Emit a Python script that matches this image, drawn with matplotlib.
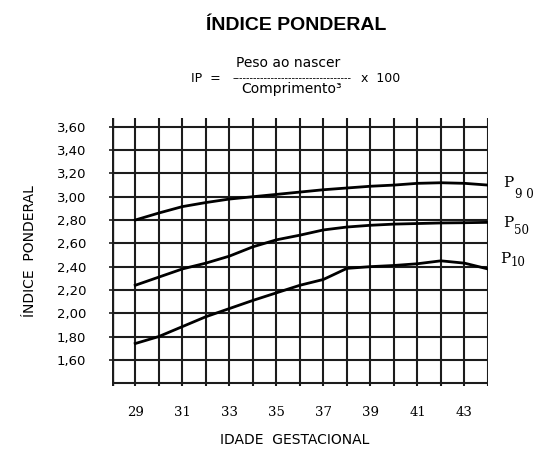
import matplotlib
matplotlib.use("Agg")
import matplotlib.pyplot as plt
import numpy as np

weeks = [29, 30, 31, 32, 33, 34, 35, 36, 37, 38, 39, 40, 41, 42, 43, 44]
p90 = [2.80, 2.86, 2.915, 2.95, 2.98, 3.00, 3.02, 3.04, 3.06, 3.075, 3.09, 3.10, 3.115, 3.12, 3.115, 3.10]
p50 = [2.24, 2.31, 2.38, 2.43, 2.49, 2.57, 2.63, 2.67, 2.715, 2.74, 2.755, 2.765, 2.77, 2.775, 2.777, 2.78]
p10 = [1.74, 1.80, 1.885, 1.97, 2.04, 2.11, 2.175, 2.24, 2.29, 2.385, 2.40, 2.41, 2.425, 2.45, 2.43, 2.38]

x_ticks = [29, 31, 33, 35, 37, 39, 41, 43]
y_ticks = [1.60, 1.80, 2.00, 2.20, 2.40, 2.60, 2.80, 3.00, 3.20, 3.40, 3.60]
y_labels = ["1,60", "1,80", "2,00", "2,20", "2,40", "2,60", "2,80", "3,00", "3,20", "3,40", "3,60"]
grid_x = list(range(28, 45))
grid_y = [1.40, 1.60, 1.80, 2.00, 2.20, 2.40, 2.60, 2.80, 3.00, 3.20, 3.40, 3.60]

W, H = 536, 459
fig = plt.figure(figsize=(W / 100, H / 100), dpi=100)
fig.patch.set_facecolor("white")
ax = fig.add_axes([111.7 / W, 1 - 385.5 / H, (488 - 111.7) / W, (385.5 - 117.5) / H])
ax.set_xlim(28, 44)
ax.set_ylim(1.38, 3.68)

gc = "#1c1c1c"
for gx in grid_x:
    ax.axvline(gx, color=gc, lw=1.5, zorder=1)
for gy in grid_y:
    ax.axhline(gy, color=gc, lw=1.5, zorder=1)
ax.axvline(28, color=gc, lw=2.4, zorder=2)

for s in ax.spines.values():
    s.set_visible(False)

ax.plot(weeks, p90, color="black", lw=2.0, zorder=3)
ax.plot(weeks, p50, color="black", lw=2.0, zorder=3)
ax.plot(weeks, p10, color="black", lw=2.0, zorder=3)

ax.set_xticks(x_ticks)
ax.set_xticklabels([str(v) for v in x_ticks], family="DejaVu Serif", fontsize=9.5)
ax.tick_params(axis="x", length=0, pad=15)
ax.set_yticks(y_ticks)
ax.set_yticklabels(y_labels, family="DejaVu Sans", fontsize=9.5)
ax.tick_params(axis="y", length=5, width=1.2, direction="inout", pad=16, color=gc)

# curve labels
ser = "DejaVu Serif"
fig.text(503 / W, 1 - 183 / H, "P", family=ser, fontsize=11, va="center", ha="left")
fig.text(515 / W, 1 - 195 / H, "9 0", family=ser, fontsize=8.5, va="center", ha="left")
fig.text(503 / W, 1 - 223 / H, "P", family=ser, fontsize=11, va="center", ha="left")
fig.text(514 / W, 1 - 231 / H, "50", family=ser, fontsize=8.5, va="center", ha="left")
fig.text(500 / W, 1 - 259 / H, "P", family=ser, fontsize=11, va="center", ha="left")
fig.text(511 / W, 1 - 262 / H, "10", family=ser, fontsize=8.5, va="center", ha="left")

# title and formula
fig.text(296 / W, 1 - 25 / H, "ÍNDICE PONDERAL", family="Liberation Sans", fontweight="bold",
         fontsize=14, ha="center", va="center")
sans = "DejaVu Sans"
fig.text(206 / W, 1 - 78 / H, "IP  =", family=sans, fontsize=9, ha="center", va="center")
fig.text(288 / W, 1 - 63 / H, "Peso ao nascer", family=sans, fontsize=10, ha="center", va="center")
fig.text(292 / W, 1 - 78 / H, "-" * 34, family=sans, fontsize=7, ha="center", va="center")
fig.text(292 / W, 1 - 89 / H, "Comprimento³", family=sans, fontsize=10, ha="center", va="center")
fig.text(381 / W, 1 - 78 / H, "x  100", family=sans, fontsize=9, ha="center", va="center")

fig.text(30 / W, 1 - 251 / H, "ÍNDICE  PONDERAL", family=sans, fontsize=10, rotation=90,
         ha="center", va="center")
fig.text(295 / W, 1 - 440 / H, "IDADE  GESTACIONAL", family=sans, fontsize=10,
         ha="center", va="center")

fig.savefig("out.png", dpi=100, facecolor="white")
